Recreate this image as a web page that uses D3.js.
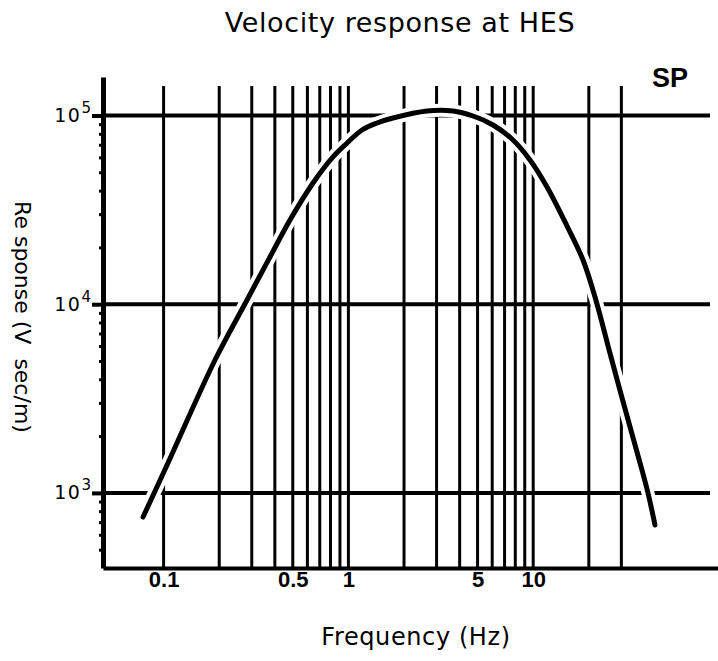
<!DOCTYPE html>
<html>
<head>
<meta charset="utf-8">
<script src="https://cdnjs.cloudflare.com/ajax/libs/d3/7.8.5/d3.min.js"></script>
<style>
  body { margin: 0; background: #fff; }
  svg { display: block; }
</style>
</head>
<body>
<div id="vis"></div>
<script>
// curve
const freqHz = [0.0774, 0.1056, 0.1898, 0.2828, 0.3764, 0.483, 0.6435, 0.8255, 0.9585, 1.185, 1.428, 1.743, 2.663, 3.681, 4.724, 6.062, 7.776, 9.61, 11.88, 15.24, 18.6, 21.6, 26.36, 31.0, 36.45, 41.8, 45.6];
const respVsm = [745, 1440, 5063, 10530, 17790, 27940, 43890, 60300, 69800, 83800, 91300, 97000, 105700, 105700, 99400, 89100, 74200, 58120, 41800, 25970, 17150, 10920, 5252, 2923, 1647, 999, 676];

// grid and ticks
const xGridVals = [0.1, 0.2, 0.3, 0.4, 0.5, 0.6, 0.7, 0.8, 0.9, 1, 2, 3, 4, 5, 6, 7, 8, 9, 10, 20, 30];
const xTickVals = [0.1, 0.5, 1, 5, 10];
const xTickText = ["0.1", "0.5", "1", "5", "10"];
const yMajorVals = [1e3, 1e4, 1e5];
const yMajorExp = ["3", "4", "5"];
const yMinorVals = [500, 600, 700, 800, 900, 2e3, 3e3, 4e3, 5e3, 6e3, 7e3, 8e3, 9e3, 2e4, 3e4, 4e4, 5e4, 6e4, 7e4, 8e4, 9e4];

const W = 718, H = 661;
const svg = d3.select("#vis").append("svg")
  .attr("width", W)
  .attr("height", H);

const x = d3.scaleLog().domain([0.047, 100]).range([103, 718]);
const y = d3.scaleLog().domain([400, 1.6e5]).range([568, 77]);

const font = "'DejaVu Sans', Verdana, sans-serif";

// vertical grid lines
svg.append("g").selectAll("line")
  .data(xGridVals)
  .enter().append("line")
  .attr("x1", d => x(d)).attr("x2", d => x(d))
  .attr("y1", 86).attr("y2", y.range()[0])
  .attr("stroke", "#000")
  .attr("stroke-width", 3);

// horizontal grid lines
svg.append("g").selectAll("line")
  .data(yMajorVals)
  .enter().append("line")
  .attr("x1", x.range()[0]).attr("x2", 710)
  .attr("y1", d => y(d)).attr("y2", d => y(d))
  .attr("stroke", "#000")
  .attr("stroke-width", 4);

// curve with white halo, gives the broken grid look of the scan
const line = d3.line()
  .x((d, i) => x(freqHz[i]))
  .y(d => y(d))
  .curve(d3.curveCatmullRom);

svg.append("path")
  .datum(respVsm)
  .attr("d", line)
  .attr("fill", "none")
  .attr("stroke", "#fff")
  .attr("stroke-width", 13)
  .attr("stroke-linecap", "round");

svg.append("path")
  .datum(respVsm)
  .attr("d", line)
  .attr("fill", "none")
  .attr("stroke", "#000")
  .attr("stroke-width", 5)
  .attr("stroke-linecap", "round")
  .attr("stroke-linejoin", "round");

// left axis: minor ticks
svg.append("g")
  .attr("transform", `translate(${x.range()[0]},0)`)
  .call(d3.axisLeft(y).tickValues(yMinorVals).tickSize(4).tickSizeOuter(0).tickFormat(""))
  .call(g => g.select(".domain").attr("stroke-width", 5))
  .call(g => g.selectAll(".tick line").attr("stroke-width", 3));

// left axis: major ticks with 10^n labels
const yMaj = svg.append("g")
  .attr("transform", `translate(${x.range()[0]},0)`)
  .call(d3.axisLeft(y).tickValues(yMajorVals).tickSize(11).tickSizeOuter(0).tickFormat(""))
  .call(g => g.select(".domain").remove())
  .call(g => g.selectAll(".tick line").attr("stroke-width", 4));

yMaj.selectAll(".tick").append("text")
  .attr("x", -12)
  .attr("y", 6)
  .attr("text-anchor", "end")
  .attr("fill", "#000")
  .style("font-family", font)
  .style("font-size", "19px")
  .each(function (d, i) {
    const t = d3.select(this);
    t.append("tspan").attr("letter-spacing", "1.5").text("10");
    t.append("tspan").attr("dy", -9).style("font-size", "15px").text(yMajorExp[i]);
  });

// bottom axis
svg.append("g")
  .attr("transform", `translate(0,${y.range()[0]})`)
  .call(d3.axisBottom(x).tickValues(xTickVals).tickSize(0).tickSizeOuter(0).tickPadding(3)
    .tickFormat((d, i) => xTickText[i]))
  .call(g => g.select(".domain").attr("stroke-width", 4))
  .call(g => g.selectAll(".tick text")
    .attr("fill", "#000")
    .style("font-family", "'Liberation Sans', Arial, sans-serif")
    .style("font-weight", "bold")
    .style("font-size", "22px"));

// title
svg.append("text")
  .attr("x", 400)
  .attr("y", 32)
  .attr("text-anchor", "middle")
  .style("font-family", font)
  .style("font-size", "27px")
  .attr("letter-spacing", "0.6")
  .text("Velocity response at HES");

// SP tag
svg.append("text")
  .attr("x", 670)
  .attr("y", 87)
  .attr("text-anchor", "middle")
  .style("font-family", "'Liberation Sans', Arial, sans-serif")
  .style("font-weight", "bold")
  .style("font-size", "27px")
  .text("SP");

// axis titles
svg.append("text")
  .attr("x", 416)
  .attr("y", 645)
  .attr("text-anchor", "middle")
  .style("font-family", font)
  .style("font-size", "24px")
  .attr("letter-spacing", "0.6")
  .text("Frequency (Hz)");

svg.append("text")
  .attr("transform", "translate(15,317) rotate(90)")
  .attr("text-anchor", "middle")
  .style("font-family", font)
  .style("font-size", "22px")
  .style("white-space", "pre")
  .text("Re sponse (V  sec/m)");
</script>
</body>
</html>
